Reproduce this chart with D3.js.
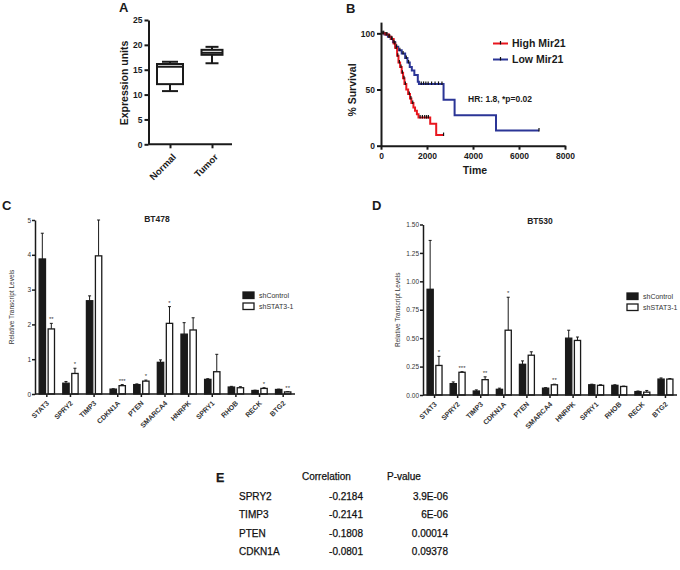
<!DOCTYPE html>
<html><head><meta charset="utf-8">
<script src="https://cdn.jsdelivr.net/npm/d3@7"></script>
<style>body{margin:0;background:#fff}svg{display:block;font-family:"Liberation Sans",Arial,sans-serif}</style>
</head><body><svg id="c" width="680" height="570"></svg>
<script>
// ---------- Panel A data ----------
const boxGroups = ["Normal","Tumor"];
const boxMin = [10.7, 16.3];
const boxQ1  = [12.1, 18.0];
const boxMed = [15.6, 18.4];
const boxQ3  = [16.15, 19.0];
const boxMax = [16.6, 19.6];
const aTicks = [0,5,10,15,20,25];

// ---------- Panel B data (Kaplan-Meier) ----------
const kmSeries = ["High Mir21","Low Mir21"];
const highTimes = [0,200,350,450,550,620,700,760,830,900,960,1020,1100,1180,1260,1320,1410,1480,1560,1630,2140,2400];
const highSurv  = [100,99,97,95,91,87,80,74,70,65,60,55,50,46,42,38,34,31,28,25,19.5,9.5];
const highEnd = 2720;
const highCensor = [120,260,380,480,600,660,730,800,870,930,1000,1060,1230,1300,1380,1700,1800,1900,1980,2060,2720];
const lowTimes = [0,150,300,420,520,620,750,900,1050,1150,1250,1340,1450,1600,1650,2720,3200,5000];
const lowSurv  = [100,99,97,95,92,88,85,82,78,74,70,67,63,57,55,41,27,13.5];
const lowEnd = 6870;
const lowCensor = [80,220,340,460,560,680,820,960,1100,1200,1750,1850,1950,2050,2200,2350,2500,2650,6870];
const bXTicks = [0,2000,4000,6000,8000];
const bYTicks = [0,50,100];

// ---------- Panels C/D data ----------
const genes = ["STAT3","SPRY2","TIMP3","CDKN1A","PTEN","SMARCA4","HNRPK","SPRY1","RHOB","RECK","BTG2"];
const groups = ["shControl","shSTAT3-1"];
const cCtrl = [3.88,0.31,2.68,0.14,0.27,0.91,1.72,0.42,0.20,0.10,0.13];
const cCtrlErr = [4.62,0.36,2.82,0.15,0.29,0.98,2.05,0.44,0.22,0.11,0.14];
const cSh = [1.87,0.59,3.97,0.24,0.37,2.03,1.84,0.64,0.18,0.16,0.06];
const cShErr = [2.03,0.74,5.0,0.27,0.40,2.51,2.19,1.14,0.21,0.18,0.07];
const cStars = ["**","*","","***","*","*","","","","*","**"];
const cTicks = [0,1,2,3,4,5];

const dCtrl = [0.93,0.10,0.035,0.05,0.27,0.06,0.50,0.09,0.085,0.03,0.14];
const dCtrlErr = [1.36,0.115,0.045,0.06,0.30,0.065,0.57,0.095,0.09,0.035,0.15];
const dSh = [0.26,0.20,0.135,0.57,0.35,0.09,0.48,0.085,0.075,0.025,0.14];
const dShErr = [0.34,0.205,0.16,0.86,0.38,0.095,0.51,0.09,0.078,0.04,0.145];
const dStars = ["*","***","**","*","","**","","","","",""];
const dTicks = [0,0.25,0.5,0.75,1.0,1.25,1.5];

// ---------- Panel E data ----------
const eGenes = ["SPRY2","TIMP3","PTEN","CDKN1A"];
const eCorr = ["-0.2184","-0.2141","-0.1808","-0.0801"];
const ePval = ["3.9E-06","6E-06","0.00014","0.09378"];

const svg = d3.select("#c");
svg.append("rect").attr("width",680).attr("height",570).attr("fill","#fff");
const ink = "#1a1a1a";

function styleAxis(g, sw, fs, weight, col){
  g.selectAll("path,line").attr("stroke",ink).attr("stroke-width",sw);
  g.selectAll("text").attr("font-size",fs).attr("font-weight",weight).attr("fill",col||ink)
   .attr("font-family",'"Liberation Sans",Arial,sans-serif');
}

// ================= Panel A =================
{
  const y = d3.scaleLinear().domain([0,25]).range([144.3,20]);
  const x = d3.scalePoint().domain(boxGroups).range([149,233]).padding(0.5);
  const g = svg.append("g");
  const ya = g.append("g").attr("transform","translate(148.5,0)")
    .call(d3.axisLeft(y).tickValues(aTicks).tickSize(4).tickSizeOuter(0).tickPadding(2));
  styleAxis(ya,2,"8.5px","bold");
  const xa = g.append("g").attr("transform","translate(0,144.3)")
    .call(d3.axisBottom(x).tickSize(4).tickSizeOuter(0).tickFormat(""));
  xa.select(".domain").attr("d","M148.5,0H232");
  styleAxis(xa,2,"9px","bold");
  boxGroups.forEach((k,i)=>{
    g.append("text").attr("transform",`translate(${x(k)+2},${153}) rotate(-45)`)
      .attr("text-anchor","end").attr("dy","0.7em").attr("font-size","9.5px").attr("font-weight","bold").attr("fill",ink).text(k);
  });
  const bw = [26,21], cw=[16,13];
  boxGroups.forEach((k,i)=>{
    const cx = x(k);
    g.append("line").attr("x1",cx).attr("x2",cx).attr("y1",y(boxMin[i])).attr("y2",y(boxQ1[i])).attr("stroke",ink).attr("stroke-width",2);
    g.append("line").attr("x1",cx).attr("x2",cx).attr("y1",y(boxMax[i])).attr("y2",y(boxQ3[i])).attr("stroke",ink).attr("stroke-width",2);
    g.append("line").attr("x1",cx-cw[i]/2).attr("x2",cx+cw[i]/2).attr("y1",y(boxMin[i])).attr("y2",y(boxMin[i])).attr("stroke",ink).attr("stroke-width",2);
    g.append("line").attr("x1",cx-cw[i]/2).attr("x2",cx+cw[i]/2).attr("y1",y(boxMax[i])).attr("y2",y(boxMax[i])).attr("stroke",ink).attr("stroke-width",2);
    g.append("rect").attr("x",cx-bw[i]/2).attr("width",bw[i]).attr("y",y(boxQ3[i])).attr("height",y(boxQ1[i])-y(boxQ3[i]))
      .attr("fill","#fff").attr("stroke",ink).attr("stroke-width",2);
    g.append("line").attr("x1",cx-bw[i]/2).attr("x2",cx+bw[i]/2).attr("y1",y(boxMed[i])).attr("y2",y(boxMed[i])).attr("stroke",ink).attr("stroke-width",2);
  });
  g.append("text").attr("transform","translate(128,83) rotate(-90)").attr("text-anchor","middle")
    .attr("font-size","10.5px").attr("font-weight","bold").attr("fill",ink).text("Expression units");
  g.append("text").attr("x",119).attr("y",12).attr("font-size","13px").attr("font-weight","bold").attr("fill",ink).text("A");
}

// ================= Panel B =================
{
  const x = d3.scaleLinear().domain([0,8000]).range([381,565]);
  const y = d3.scaleLinear().domain([0,110]).range([145.7,22.1]);
  const g = svg.append("g");
  const series = [
    {name:kmSeries[0], t:highTimes, s:highSurv, end:highEnd, cens:highCensor, color:"#e8161e"},
    {name:kmSeries[1], t:lowTimes, s:lowSurv, end:lowEnd, cens:lowCensor, color:"#2b3596"}
  ];
  function survAt(se, t){ let v=se.s[0]; se.t.forEach((tt,i)=>{ if(tt<=t) v=se.s[i]; }); return v; }
  [series[1],series[0]].forEach(se=>{
    const pts = se.t.map((t,i)=>[t,se.s[i]]);
    pts.push([se.end, se.s[se.s.length-1]]);
    const line = d3.line().x(d=>x(d[0])).y(d=>y(d[1])).curve(d3.curveStepAfter);
    g.append("path").attr("d",line(pts)).attr("fill","none").attr("stroke",se.color).attr("stroke-width",2);
  });
  [series[1],series[0]].forEach(se=>{
    se.cens.forEach(t=>{
      const yy = y(survAt(se,t));
      g.append("line").attr("x1",x(t)).attr("x2",x(t)).attr("y1",yy-2.5).attr("y2",yy+1).attr("stroke","#111").attr("stroke-width",1.2);
    });
  });
  const xa = g.append("g").attr("transform","translate(0,145.7)")
    .call(d3.axisBottom(x).tickValues(bXTicks).tickSize(4).tickSizeOuter(0).tickPadding(3).tickFormat(d3.format("d")));
  styleAxis(xa,2,"8.5px","bold");
  const ya = g.append("g").attr("transform","translate(381,0)")
    .call(d3.axisLeft(y).tickValues(bYTicks).tickSize(4).tickSizeOuter(0).tickPadding(2));
  styleAxis(ya,2,"8.5px","bold");
  g.append("text").attr("transform","translate(356,90) rotate(-90)").attr("text-anchor","middle")
    .attr("font-size","10.5px").attr("font-weight","bold").attr("fill",ink).text("% Survival");
  g.append("text").attr("x",475).attr("y",174).attr("text-anchor","middle")
    .attr("font-size","10.5px").attr("font-weight","bold").attr("fill",ink).text("Time");
  g.append("text").attr("x",468).attr("y",102).attr("font-size","8.5px").attr("font-weight","bold").attr("fill",ink).text("HR: 1.8, *p=0.02");
  series.forEach((se,i)=>{
    const yy = 43.5 + i*16;
    g.append("line").attr("x1",493).attr("x2",508).attr("y1",yy).attr("y2",yy).attr("stroke",se.color).attr("stroke-width",2);
    g.append("line").attr("x1",500.5).attr("x2",500.5).attr("y1",yy-2.5).attr("y2",yy+1).attr("stroke","#111").attr("stroke-width",1.2);
    g.append("text").attr("x",512).attr("y",yy+3.8).attr("font-size","10.5px").attr("font-weight","bold").attr("fill",ink).text(se.name);
  });
  g.append("text").attr("x",346).attr("y",13).attr("font-size","13px").attr("font-weight","bold").attr("fill",ink).text("B");
}

// ================= Panels C / D =================
function barPanel(o){
  const g = svg.append("g");
  const y = d3.scaleLinear().domain(o.domain).range([o.y0,o.y1]);
  const x0 = d3.scaleBand().domain(genes).range([o.xl,o.xr]).paddingInner(0.3).paddingOuter(0.15);
  const x1 = d3.scaleBand().domain(groups).range([0,x0.bandwidth()]).paddingInner(0.16);
  const rows = genes.map((k,i)=>({gene:k, vals:[
    {grp:groups[0], v:o.ctrl[i], e:o.ctrlErr[i], star:""},
    {grp:groups[1], v:o.sh[i], e:o.shErr[i], star:o.stars[i]}]}));
  const gg = g.selectAll("g.grp").data(rows).join("g").attr("transform",d=>`translate(${x0(d.gene)},0)`);
  gg.selectAll("line.err").data(d=>d.vals).join("line")
    .attr("x1",d=>x1(d.grp)+x1.bandwidth()/2).attr("x2",d=>x1(d.grp)+x1.bandwidth()/2)
    .attr("y1",d=>y(d.v)).attr("y2",d=>y(d.e)).attr("stroke",ink).attr("stroke-width",1);
  gg.selectAll("line.cap").data(d=>d.vals).join("line")
    .attr("x1",d=>x1(d.grp)+x1.bandwidth()/2-1.5).attr("x2",d=>x1(d.grp)+x1.bandwidth()/2+1.5)
    .attr("y1",d=>y(d.e)).attr("y2",d=>y(d.e)).attr("stroke",ink).attr("stroke-width",1);
  gg.selectAll("rect").data(d=>d.vals).join("rect")
    .attr("x",d=>x1(d.grp)+0.6).attr("width",x1.bandwidth()-1.2)
    .attr("y",d=>y(d.v)).attr("height",d=>y(0)-y(d.v))
    .attr("fill",d=>d.grp===groups[0]?ink:"#fff").attr("stroke",ink).attr("stroke-width",1.3);
  gg.selectAll("text.star").data(d=>d.vals.filter(v=>v.star)).join("text")
    .attr("x",d=>x1(d.grp)+x1.bandwidth()/2).attr("y",d=>y(d.e)-2)
    .attr("text-anchor","middle").attr("font-size","6px").attr("fill","#333").text(d=>d.star);
  const ya = g.append("g").attr("transform",`translate(${o.xl},0)`)
    .call(d3.axisLeft(y).tickValues(o.ticks).tickSize(3).tickSizeOuter(0).tickPadding(1).tickFormat(o.fmt));
  styleAxis(ya,1.5,"6.5px","normal","#333");
  const xa = g.append("g").attr("transform",`translate(0,${o.y0})`)
    .call(d3.axisBottom(x0).tickSize(3).tickSizeOuter(0).tickFormat(""));
  styleAxis(xa,1.5,"6.5px","normal");
  xa.select(".domain").attr("d",`M${o.xl},0H${o.xr}`);
  genes.forEach(k=>{
    g.append("text").attr("transform",`translate(${x0(k)+x0.bandwidth()/2+1},${o.y0+8}) rotate(-45)`)
      .attr("text-anchor","end").attr("dy","0.35em").attr("font-size","7px").attr("font-weight","bold").attr("fill","#333").text(k);
  });
  g.append("text").attr("x",o.titleX).attr("y",o.titleY).attr("text-anchor","middle")
    .attr("font-size","8.5px").attr("font-weight","bold").attr("fill","#222").text(o.title);
  g.append("text").attr("transform",`translate(${o.ylabX},${(o.y0+o.y1)/2}) rotate(-90)`).attr("text-anchor","middle")
    .attr("font-size","6.5px").attr("fill","#333").text("Relative Transcript Levels");
  groups.forEach((k,i)=>{
    const yy = o.legY + i*11;
    g.append("rect").attr("x",o.legX).attr("y",yy-3).attr("width",11).attr("height",6.5)
      .attr("fill",i===0?ink:"#fff").attr("stroke",ink).attr("stroke-width",1.3);
    g.append("text").attr("x",o.legX+16).attr("y",yy+2.5).attr("font-size","7px").attr("fill","#333").text(k);
  });
  g.append("text").attr("x",o.letterX).attr("y",o.letterY).attr("font-size","13px").attr("font-weight","bold").attr("fill",ink).text(o.letter);
}

barPanel({domain:[0,5], y0:394, y1:220, xl:35, xr:295, ctrl:cCtrl, ctrlErr:cCtrlErr, sh:cSh, shErr:cShErr, stars:cStars,
  ticks:cTicks, fmt:d3.format("d"), title:"BT478", titleX:157, titleY:222, ylabX:14, legX:243, legY:295, letter:"C", letterX:2, letterY:210});
barPanel({domain:[0,1.5], y0:395, y1:224.5, xl:423, xr:677, ctrl:dCtrl, ctrlErr:dCtrlErr, sh:dSh, shErr:dShErr, stars:dStars,
  ticks:dTicks, fmt:d3.format(".2f"), title:"BT530", titleX:540, titleY:224, ylabX:400, legX:627, legY:296, letter:"D", letterX:372, letterY:210});

// ================= Panel E =================
{
  const g = svg.append("g").attr("font-size","10px").attr("fill","#111").attr("stroke","#111").attr("stroke-width",0.25);
  g.append("text").attr("x",216).attr("y",482).attr("font-size","12.5px").attr("font-weight","bold").attr("fill",ink).text("E");
  g.append("text").attr("x",302).attr("y",480).text("Correlation");
  g.append("text").attr("x",387).attr("y",480).text("P-value");
  const ry = d3.scalePoint().domain(eGenes).range([500,555]);
  eGenes.forEach((k,i)=>{
    g.append("text").attr("x",239).attr("y",ry(k)).text(k);
    g.append("text").attr("x",363).attr("y",ry(k)).attr("text-anchor","end").text(eCorr[i]);
    g.append("text").attr("x",448).attr("y",ry(k)).attr("text-anchor","end").text(ePval[i]);
  });
}
</script></body></html>
